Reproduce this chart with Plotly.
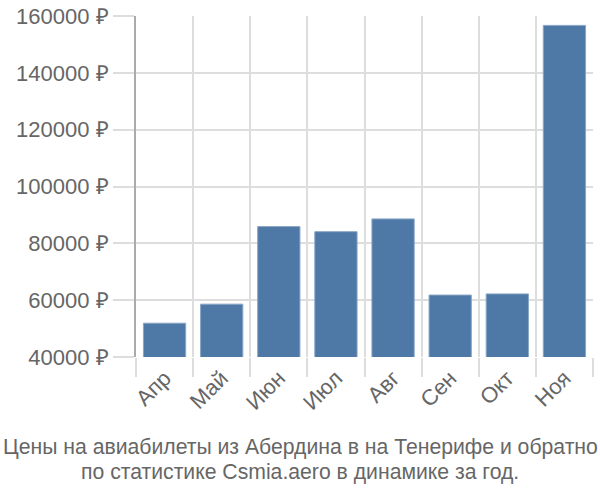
import plotly.graph_objects as go

months = ["Апр", "Май", "Июн", "Июл", "Авг", "Сен", "Окт", "Ноя"]
prices = [51900, 58600, 85900, 84100, 88600, 61800, 62200, 156700]
y_ticks = [40000, 60000, 80000, 100000, 120000, 140000, 160000]
y_labels = [f"{v} ₽" for v in y_ticks]
title_lines = ["Цены на авиабилеты из Абердина в на Тенерифе и обратно",
               "по статистике Csmia.aero в динамике за год."]

L, R, T, B = 136, 7, 16, 143
W, H = 600, 500
pw, ph = W - L - R, H - T - B

def px_to_paper_x(px):
    return (px - L) / pw

def px_to_paper_y(py):
    return (H - B - py) / ph

fig = go.Figure(go.Bar(
    x=months, y=prices,
    marker=dict(color="#4e78a6", line=dict(color="#8aa6c6", width=1)),
    width=0.74,
))

title_y = [447, 472]
annotations = [dict(
    text=line, x=px_to_paper_x(300), y=px_to_paper_y(py), xref="paper", yref="paper",
    xanchor="center", yanchor="middle", showarrow=False,
    font=dict(size=21.2, color="#666666"),
) for line, py in zip(title_lines, title_y)]

fig.update_layout(
    width=W, height=H,
    margin=dict(l=L, r=R, t=T, b=B),
    plot_bgcolor="white", paper_bgcolor="white",
    font=dict(family="Liberation Sans, Arial, sans-serif", size=22, color="#666666"),
    showlegend=False,
    xaxis=dict(
        type="category", tickson="boundaries", ticks="outside", ticklen=19,
        tickcolor="#dddddd", tickwidth=2, showgrid=True, gridcolor="#dddddd", gridwidth=2,
        tickangle=-45, tickfont=dict(size=22, color="#666666"), ticklabelstandoff=3,
        showline=False, range=[-0.5, 7.5], automargin=False,
    ),
    yaxis=dict(
        range=[40000, 160000], tickvals=y_ticks, ticktext=y_labels,
        ticks="outside", ticklen=21, tickcolor="#dddddd", tickwidth=2,
        showgrid=True, gridcolor="#dddddd", gridwidth=2,
        showline=True, linecolor="#aaaaaa", linewidth=2,
        zeroline=False, tickfont=dict(size=22, color="#666666"), automargin=False,
    ),
    annotations=annotations,
)

fig.write_html("out.html", config={"displayModeBar": False},
               post_script="document.body.style.margin='0';")
